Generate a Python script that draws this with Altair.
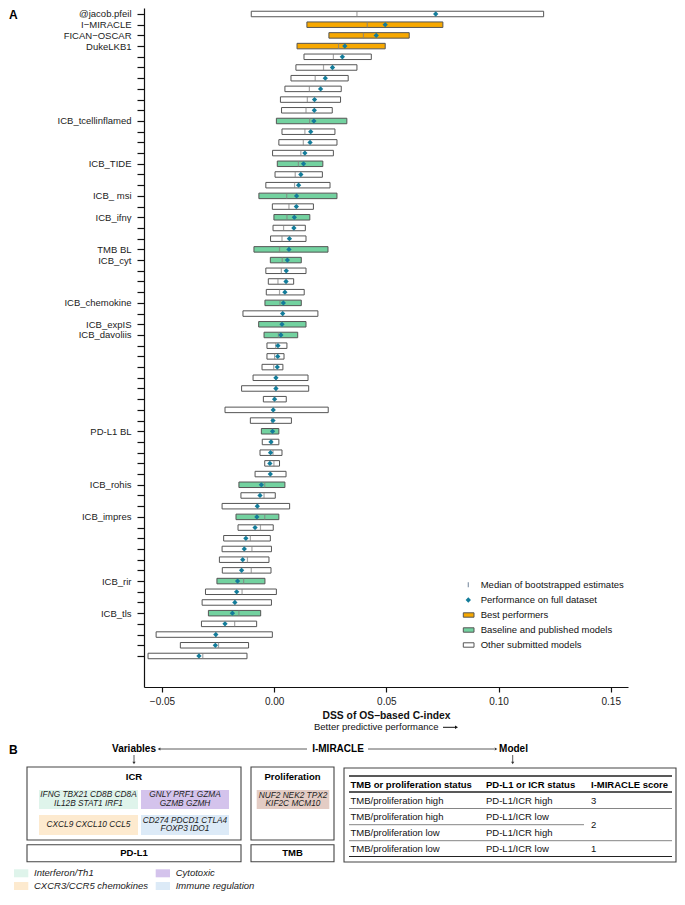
import json
import altair as alt
import pandas as pd

FONT = "Liberation Sans"

# ---------------- Panel A data ----------------
labels = ['@jacob.pfeil', 'I\u2212MIRACLE', 'FICAN\u2212OSCAR', 'DukeLKB1', '', '', '', '', '', '',
          'ICB_tcellinflamed', '', '', '', 'ICB_TIDE', '', '', 'ICB_ msi', '', 'ICB_ifn\u03b3',
          '', '', 'TMB BL', 'ICB_cyt', '', '', '', 'ICB_chemokine', '', 'ICB_expIS',
          'ICB_davoliis', '', '', '', '', '', '', '', '', 'PD-L1 BL',
          '', '', '', '', 'ICB_rohis', '', '', 'ICB_impres', '', '',
          '', '', '', 'ICB_rir', '', '', 'ICB_tls', '', '', '', '']

group = (['other'] + ['best'] * 3 + ['other'] * 57)
for i, lab in enumerate(labels):
    if lab.startswith('ICB') or lab in ('TMB BL', 'PD-L1 BL'):
        group[i] = 'baseline'

lower = [-0.0102, 0.0146, 0.0244, 0.0102, 0.0133, 0.0097, 0.0075, 0.0048, 0.0028, 0.0033,
         0.0010, 0.0035, 0.0021, -0.0007, 0.0014, 0.0004, -0.0037, -0.0068, -0.0008, -0.0001,
         -0.0005, -0.0016, -0.0090, -0.0017, -0.0037, -0.0026, -0.0035, -0.0041, -0.0139, -0.0069,
         -0.0045, -0.0032, -0.0032, -0.0054, -0.0094, -0.0145, -0.0048, -0.0219, -0.0106, -0.0057,
         -0.0053, -0.0063, -0.0042, -0.0085, -0.0157, -0.0148, -0.0232, -0.0170, -0.0161, -0.0225,
         -0.0232, -0.0244, -0.0231, -0.0255, -0.0306, -0.0321, -0.0293, -0.0324, -0.0526, -0.0418,
         -0.0562]
upper = [0.1201, 0.0752, 0.0602, 0.0495, 0.0433, 0.0369, 0.0330, 0.0299, 0.0296, 0.0259,
         0.0324, 0.0271, 0.0280, 0.0264, 0.0217, 0.0215, 0.0249, 0.0280, 0.0175, 0.0159,
         0.0139, 0.0142, 0.0240, 0.0121, 0.0142, 0.0087, 0.0134, 0.0121, 0.0195, 0.0142,
         0.0105, 0.0057, 0.0044, 0.0039, 0.0151, 0.0154, 0.0054, 0.0241, 0.0077, 0.0021,
         0.0021, 0.0035, 0.0024, 0.0053, 0.0048, 0.0005, 0.0069, 0.0021, -0.0004, -0.0017,
         -0.0012, -0.0023, -0.0014, -0.0041, 0.0010, -0.0012, -0.0060, -0.0078, -0.0008, -0.0114,
         -0.0121]
median = [0.0369, 0.0415, 0.0398, 0.0287, 0.0264, 0.0220, 0.0183, 0.0157, 0.0148, 0.0142,
          0.0158, 0.0137, 0.0130, 0.0119, 0.0108, 0.0094, 0.0091, 0.0056, 0.0066, 0.0057,
          0.0042, 0.0035, 0.0024, 0.0036, 0.0032, 0.0017, 0.0024, 0.0026, 0.0038, 0.0033,
          0.0019, 0.0007, 0.0002, -0.0002, 0.0008, 0.0008, 0.0001, -0.0004, -0.0011, -0.0008,
          -0.0010, -0.0005, -0.0001, -0.0017, -0.0042, -0.0045, -0.0073, -0.0042, -0.0061, -0.0106,
          -0.0099, -0.0119, -0.0102, -0.0136, -0.0143, -0.0175, -0.0157, -0.0176, -0.0260, -0.0248,
          -0.0318]
point = [0.0720, 0.0495, 0.0455, 0.0315, 0.0304, 0.0260, 0.0228, 0.0207, 0.0180, 0.0179,
         0.0177, 0.0163, 0.0160, 0.0137, 0.0131, 0.0119, 0.0109, 0.0100, 0.0099, 0.0090,
         0.0088, 0.0068, 0.0066, 0.0059, 0.0054, 0.0053, 0.0048, 0.0041, 0.0038, 0.0035,
         0.0030, 0.0017, 0.0016, 0.0014, 0.0008, 0.0008, 0.0002, -0.0004, -0.0005, -0.0007,
         -0.0014, -0.0016, -0.0019, -0.0017, -0.0057, -0.0063, -0.0075, -0.0077, -0.0085, -0.0126,
         -0.0133, -0.0140, -0.0145, -0.0163, -0.0167, -0.0175, -0.0186, -0.0219, -0.0260, -0.0262,
         -0.0335]

x_ticks = [-0.05, 0.0, 0.05, 0.10, 0.15]
group_names = ['best', 'baseline', 'other']
group_fills = ['#F7A800', '#73D2A0', '#FFFFFF']
legend_a_labels = ['Median of bootstrapped estimates', 'Performance on full dataset',
                   'Best performers', 'Baseline and published models', 'Other submitted models']

# ---------------- Panel B data ----------------
flow_labels = ['Variables', 'I-MIRACLE', 'Model']
icr_title = 'ICR'
prolif_title = 'Proliferation'
icr_genes = [['IFNG TBX21 CD8B CD8A', 'IL12B STAT1 IRF1'],
             ['GNLY PRF1 GZMA', 'GZMB GZMH'],
             ['CXCL9 CXCL10 CCL5'],
             ['CD274 PDCD1 CTLA4', 'FOXP3 IDO1']]
icr_colors = ['#DFF4EB', '#D4C3EC', '#FDEACF', '#DCEAF7']
prolif_genes = ['NUF2 NEK2 TPX2', 'KIF2C MCM10']
prolif_color = '#E3CCC4'
bottom_boxes = ['PD-L1', 'TMB']
table_header = ['TMB or proliferation status', 'PD-L1 or ICR status', 'I-MIRACLE score']
table_rows = [['TMB/proliferation high', 'PD-L1/ICR high', '3'],
              ['TMB/proliferation high', 'PD-L1/ICR low', ''],
              ['TMB/proliferation low', 'PD-L1/ICR high', ''],
              ['TMB/proliferation low', 'PD-L1/ICR low', '1']]
merged_score = '2'
legend_b_labels = ['Interferon/Th1', 'CXCR3/CCR5 chemokines', 'Cytotoxic', 'Immune regulation']

# ---------------- Panel A chart ----------------
df = pd.DataFrame({'idx': list(range(len(labels))), 'label': labels, 'group': group,
                   'lower': lower, 'upper': upper, 'median': median, 'point': point})

xscale = alt.Scale(domain=[-0.058, 0.1577], nice=False, zero=False, padding=0)
yscale = alt.Scale(domain=[-0.56, 62.9], nice=False, zero=False, reverse=True, padding=0)

label_expr = json.dumps(labels, ensure_ascii=False) + '[datum.value]'

xaxis = alt.Axis(values=x_ticks, format='.2f', tickSize=5, labelPadding=4, labelFontSize=10,
                 labelColor='#222', domainColor='#111', tickColor='#111', domainWidth=1.2,
                 tickWidth=1.2, grid=False, title='DSS of OS\u2212based C-index',
                 titleFontSize=10.3, titleFontWeight='bold', titleColor='#111', titlePadding=4,
                 labelFlush=False, labelFont=FONT, titleFont=FONT)
yaxis = alt.Axis(values=list(range(len(labels))), labelExpr=label_expr, tickSize=7,
                 labelPadding=6, labelFontSize=9.5, labelColor='#222', domainColor='#111',
                 tickColor='#111', domainWidth=1.2, tickWidth=1.2, grid=False, title=None,
                 labelOverlap=False, labelFlush=False, labelFont=FONT)

base = alt.Chart(df)
bars = base.mark_bar(size=5.5, stroke='#555', strokeWidth=1).encode(
    x=alt.X('lower:Q', scale=xscale, axis=xaxis),
    x2='upper:Q',
    y=alt.Y('idx:Q', scale=yscale, axis=yaxis),
    fill=alt.Fill('group:N', scale=alt.Scale(domain=group_names, range=group_fills), legend=None),
)
meds = base.mark_tick(orient='vertical', size=5.5, thickness=1.2, color='#808080').encode(
    x=alt.X('median:Q', scale=xscale, axis=xaxis),
    y=alt.Y('idx:Q', scale=yscale, axis=yaxis))
pts = base.mark_point(shape='diamond', filled=True, size=28, color='#137C9A', opacity=1).encode(
    x=alt.X('point:Q', scale=xscale, axis=xaxis),
    y=alt.Y('idx:Q', scale=yscale, axis=yaxis))

layers = [bars, meds, pts]

# ---------------- helpers for annotation layers ----------------
one = pd.DataFrame({'k': [0]})
OX, OY = 144, 8
BDY = -14


def rx(x):
    return x - OX


def ry(y):
    return y - OY


def bry(y):
    return y - OY + BDY


def txt(x, y, s, size=9.5, weight='normal', style='normal', align='center', color='#111'):
    return alt.Chart(one).mark_text(text=s, fontSize=size, fontWeight=weight, fontStyle=style,
                                    align=align, baseline='middle', color=color, font=FONT).encode(
        x=alt.value(x), y=alt.value(y))


def rect(x1, y1, x2, y2, fill, stroke=None, sw=1.0):
    kw = dict(fill=fill)
    if stroke is not None:
        kw.update(stroke=stroke, strokeWidth=sw)
    return alt.Chart(one).mark_rect(**kw).encode(
        x=alt.value(x1), x2=alt.value(x2), y=alt.value(y1), y2=alt.value(y2))


def hline(x1, x2, y, color='#333', sw=1.0):
    return alt.Chart(one).mark_rule(color=color, strokeWidth=sw).encode(
        x=alt.value(x1), x2=alt.value(x2), y=alt.value(y))


def vline(x, y1, y2, color='#333', sw=1.0):
    return alt.Chart(one).mark_rule(color=color, strokeWidth=sw).encode(
        x=alt.value(x), y=alt.value(y1), y2=alt.value(y2))


def head(x, y, shape, size=14, color='#333'):
    return alt.Chart(one).mark_point(shape=shape, filled=True, size=size, color=color,
                                     opacity=1, strokeWidth=0).encode(
        x=alt.value(x), y=alt.value(y))


# ---------------- Panel A annotations ----------------
layers.append(txt(rx(9), 7, 'A', size=12, weight='bold', align='left', color='#000'))
layers.append(txt(rx(314), ry(727.3), 'Better predictive performance', align='left'))
layers.append(hline(rx(443), rx(455), ry(727.3), color='#111', sw=1.0))
layers.append(head(rx(456.5), ry(727.3), 'triangle-right', size=12, color='#111'))

leg_y = [584.7, 600, 615, 630, 645]
layers.append(vline(rx(468.3), ry(leg_y[0]) - 2.5, ry(leg_y[0]) + 2.5, color='#8797AA', sw=1.2))
layers.append(head(rx(468.3), ry(leg_y[1]), 'diamond', size=28, color='#137C9A'))
for j, gi in enumerate([0, 1, 2]):
    yy = ry(leg_y[2 + j])
    layers.append(rect(rx(463.3), yy - 2.2, rx(474), yy + 2.2, group_fills[gi], '#555', 1.0))
for j, lab in enumerate(legend_a_labels):
    layers.append(txt(rx(480.7), ry(leg_y[j]), lab, align='left'))

# ---------------- Panel B ----------------
layers.append(txt(rx(9), bry(764), 'B', size=12, weight='bold', align='left', color='#000'))
flow_x = [134, 338, 513.5]
for fx, lab in zip(flow_x, flow_labels):
    layers.append(txt(rx(fx), bry(762.7), lab, size=10, weight='bold', color='#000'))
layers.append(hline(rx(160), rx(307), bry(763), sw=0.8))
layers.append(head(rx(159), bry(763), 'triangle-left', size=10))
layers.append(hline(rx(368), rx(494), bry(763), sw=0.8))
layers.append(head(rx(496), bry(763), 'triangle-right', size=10))
for dx in [134, 512.7]:
    layers.append(vline(rx(dx), bry(769), bry(776), sw=0.8))
    layers.append(head(rx(dx), bry(777), 'triangle-down', size=10))

# ICR box
layers.append(rect(rx(27), bry(781), rx(241), bry(854), '#FFFFFF', '#444', 1.1))
layers.append(txt(rx(134), bry(790.7), icr_title, weight='bold', color='#000'))
gene_boxes = [(39, 804, 138, 823), (141, 804, 229, 823), (39, 829, 138, 849), (141, 829, 229, 849)]
for (x1, y1, x2, y2), col, lines in zip(gene_boxes, icr_colors, icr_genes):
    layers.append(rect(rx(x1), bry(y1), rx(x2), bry(y2), col))
    cx = (x1 + x2) / 2
    cy = (y1 + y2) / 2
    n = len(lines)
    for k, line in enumerate(lines):
        yy = cy + (k - (n - 1) / 2) * 8.4
        layers.append(txt(rx(cx), bry(yy), line, size=8.3, style='italic', color='#222'))

# Proliferation box
layers.append(rect(rx(251), bry(781), rx(334), bry(854), '#FFFFFF', '#444', 1.1))
layers.append(txt(rx(292.5), bry(790.7), prolif_title, weight='bold', color='#000'))
layers.append(rect(rx(256.7), bry(804), rx(329.3), bry(823), prolif_color))
for k, line in enumerate(prolif_genes):
    layers.append(txt(rx(293), bry(809.5 + k * 8.4), line, size=8.3, style='italic', color='#222'))

# PD-L1 and TMB boxes
for (x1, x2), lab in zip([(27, 241), (251, 334)], bottom_boxes):
    layers.append(rect(rx(x1), bry(858.7), rx(x2), bry(875.7), '#FFFFFF', '#444', 1.1))
    layers.append(txt(rx((x1 + x2) / 2), bry(867.3), lab, weight='bold', color='#000'))

# Model table
layers.append(rect(rx(344), bry(782), rx(676), bry(876), '#FFFFFF', '#444', 1.1))
col_x = [350.5, 486, 591]
layers.append(hline(rx(349), rx(672), bry(790), color='#222', sw=1.6))
layers.append(hline(rx(349), rx(672), bry(806), color='#222', sw=1.6))
layers.append(hline(rx(349), rx(672), bry(822.5), color='#666', sw=0.8))
layers.append(hline(rx(349), rx(584), bry(838.7), color='#666', sw=0.8))
layers.append(hline(rx(349), rx(672), bry(854.7), color='#666', sw=0.8))
layers.append(hline(rx(349), rx(672), bry(870.5), color='#222', sw=1.2))
for cx, lab in zip(col_x, table_header):
    layers.append(txt(rx(cx), bry(798.7), lab, weight='bold', align='left', color='#000'))
row_y = [814.7, 830.7, 846.7, 863]
for yy, row in zip(row_y, table_rows):
    for cx, cell in zip(col_x, row):
        if cell:
            layers.append(txt(rx(cx), bry(yy), cell, align='left', color='#111'))
layers.append(txt(rx(col_x[2]), bry(838.7), merged_score, align='left', color='#111'))

# Bottom legend
sw_pos = [(14, 887.3), (14, 900), (155.7, 887.3), (155.7, 900)]
sw_cols = [icr_colors[0], icr_colors[2], icr_colors[1], icr_colors[3]]
for (sx, sy), col, lab in zip(sw_pos, sw_cols, legend_b_labels):
    layers.append(rect(rx(sx), bry(sy - 4), rx(sx + 14.3), bry(sy + 4), col))
    layers.append(txt(rx(sx + 20), bry(sy), lab, style='italic', align='left', color='#222'))

chart = alt.layer(*layers).properties(
    width=484, height=679,
    autosize=alt.AutoSizeParams(type='none'),
    padding={'left': 136, 'top': 0, 'right': 49, 'bottom': 204},
).configure(font=FONT, view=alt.ViewConfig(stroke=None))

chart.save("out.html", embed_options={"renderer": "svg", "actions": False})
